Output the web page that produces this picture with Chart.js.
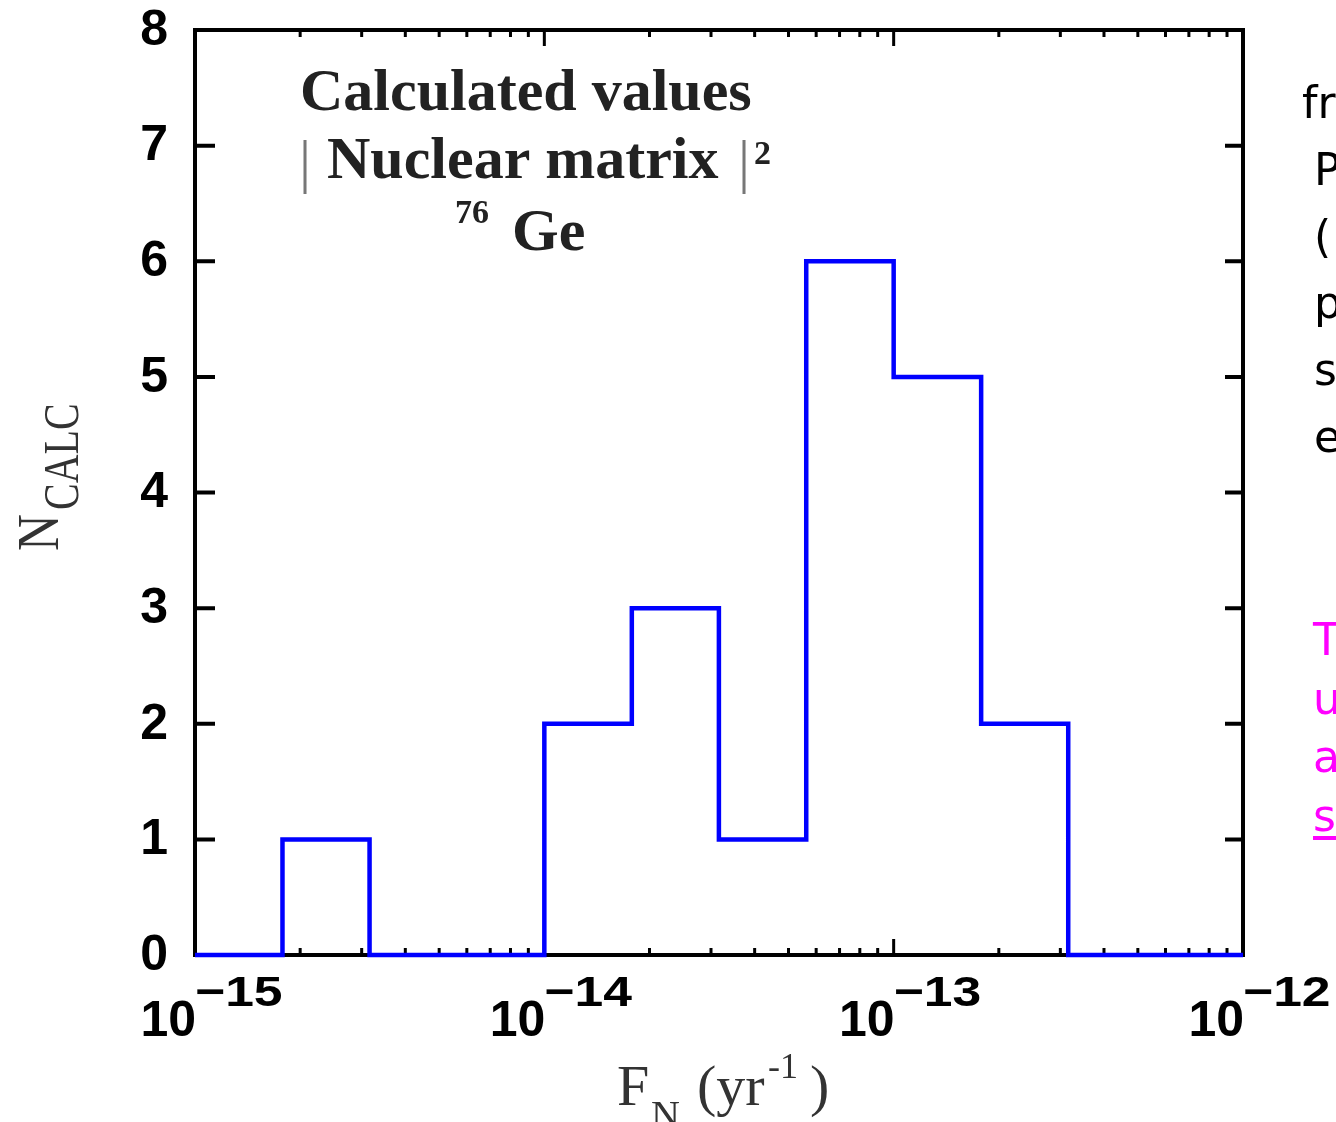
<!DOCTYPE html>
<html>
<head>
<meta charset="utf-8">
<script src="https://cdn.jsdelivr.net/npm/chart.js@4/dist/chart.umd.min.js"></script>
<style>
  body { margin: 0; background: #fff; }
  #wrap { width: 1336px; height: 1122px; }
</style>
</head>
<body>
<div id="wrap"><canvas id="histo" width="1336" height="1122"></canvas></div>
<script>
// histogram of calculated F_N values (bin edges in yr^-1)
var binEdges = [1e-15, 1.78e-15, 3.16e-15, 1e-14, 1.78e-14, 3.16e-14, 5.62e-14, 1e-13, 1.78e-13, 3.16e-13, 1e-12];
var counts   = [0, 1, 0, 2, 3, 1, 6, 5, 2, 0, 0];

// axes
var yTicks = [0, 1, 2, 3, 4, 5, 6, 7, 8];
var xDecades = [1e-15, 1e-14, 1e-13, 1e-12];
var xExpLabels = ['\u221215', '\u221214', '\u221213', '\u221212'];

// text cut off at the right edge of the slide
var sideLines = ['fr', 'P', '(', 'p', 's', 'e'];
var pinkLines = ['T', 'u', 'a', 's'];

var points = binEdges.map(function (e, i) { return { x: e, y: counts[i] }; });

var frame = {
  id: 'frame',
  beforeDatasetsDraw: function (chart) {
    var c = chart.ctx, a = chart.chartArea;
    var xs = chart.scales.x, ys = chart.scales.y;
    c.save();
    c.strokeStyle = '#000';
    c.lineWidth = 4;
    c.strokeRect(a.left, a.top, a.right - a.left, a.bottom - a.top);

    // y ticks, inside, both sides
    c.lineWidth = 4;
    yTicks.forEach(function (v) {
      var py = ys.getPixelForValue(v);
      c.beginPath();
      c.moveTo(a.left, py); c.lineTo(a.left + 20, py);
      c.moveTo(a.right, py); c.lineTo(a.right - 18, py);
      c.stroke();
    });

    // x ticks, major + minor, bottom and top
    c.lineWidth = 3;
    xDecades.forEach(function (d, i) {
      var px = xs.getPixelForValue(d);
      c.beginPath();
      c.moveTo(px, a.bottom); c.lineTo(px, a.bottom - 16);
      c.moveTo(px, a.top); c.lineTo(px, a.top + 16);
      c.stroke();
      if (i == xDecades.length - 1) return;
      for (var m = 2; m <= 9; m++) {
        var mx = xs.getPixelForValue(d * m);
        c.beginPath();
        c.moveTo(mx, a.bottom); c.lineTo(mx, a.bottom - 7);
        c.moveTo(mx, a.top); c.lineTo(mx, a.top + 7);
        c.stroke();
      }
    });
    c.restore();
  },
  afterDraw: function (chart) {
    var c = chart.ctx, a = chart.chartArea;
    var xs = chart.scales.x, ys = chart.scales.y;
    c.save();
    c.fillStyle = '#000';

    // y tick labels
    c.font = 'bold 50px "Liberation Sans", Arial, sans-serif';
    c.textAlign = 'right';
    c.textBaseline = 'middle';
    yTicks.forEach(function (v) {
      c.fillText(String(v), 168, ys.getPixelForValue(v) + 1);
    });

    // x tick labels 10^-n
    c.textBaseline = 'alphabetic';
    xDecades.forEach(function (d, i) {
      var px = xs.getPixelForValue(d);
      c.font = 'bold 50px "Liberation Sans", Arial, sans-serif';
      c.textAlign = 'right';
      c.fillText('10', px + 1, 1036);
      c.font = 'bold 43px "Liberation Sans", Arial, sans-serif';
      c.textAlign = 'left';
      c.save();
      c.translate(px, 1006);
      c.scale(1.2, 1);
      c.fillText(xExpLabels[i], 0, 0);
      c.restore();
    });

    // x title  F_N (yr^-1)
    c.fillStyle = '#333';
    c.textAlign = 'left';
    c.font = '58px "Liberation Serif", "Times New Roman", serif';
    c.fillText('F', 617, 1105);
    c.font = '40px "Liberation Serif", "Times New Roman", serif';
    c.fillText('N', 651, 1128);
    c.font = '58px "Liberation Serif", "Times New Roman", serif';
    c.fillText('(yr', 697, 1105);
    c.font = '36px "Liberation Serif", "Times New Roman", serif';
    c.fillText('-1', 768, 1078);
    c.font = '58px "Liberation Serif", "Times New Roman", serif';
    c.fillText(')', 810, 1105);

    // y title  N_CALC
    c.save();
    c.translate(58, 551);
    c.rotate(-Math.PI / 2);
    c.save();
    c.scale(0.85, 1);
    c.font = '60px "Liberation Serif", "Times New Roman", serif';
    c.fillText('N', 0, 0);
    c.restore();
    c.translate(41, 20);
    c.scale(0.8, 1);
    c.font = '50px "Liberation Serif", "Times New Roman", serif';
    c.fillText('CALC', 0, 0);
    c.restore();

    // annotation in the plot
    var bold = 'bold 60px "Liberation Serif", "Times New Roman", serif';
    c.fillStyle = '#222';
    c.font = bold;
    c.fillText('Calculated values', 300, 110);
    c.fillStyle = '#777';
    c.font = '60px "Liberation Serif", "Times New Roman", serif';
    c.fillText('|', 299, 181);
    c.fillText('|', 738, 181);
    c.fillStyle = '#222';
    c.font = bold;
    c.fillText('Nuclear matrix', 327, 178);
    c.font = 'bold 34px "Liberation Serif", "Times New Roman", serif';
    c.fillText('2', 754, 164);
    c.fillText('76', 455, 223);
    c.font = bold;
    c.fillText('Ge', 512, 250);

    // side text (cut off)
    c.fillStyle = '#000';
    c.font = '44px "DejaVu Sans", sans-serif';
    sideLines.forEach(function (t, i) {
      c.fillText(t, i == 0 ? 1302 : 1314, 118 + i * 66.8);
    });
    c.fillStyle = '#ff00ff';
    pinkLines.forEach(function (t, i) {
      c.fillText(t, 1313, 655 + i * 58.5);
    });
    c.fillRect(1313, 836, 30, 4);
    c.restore();
  }
};

new Chart(document.getElementById('histo'), {
  type: 'line',
  data: {
    datasets: [{
      data: points,
      stepped: 'before',
      borderColor: '#0000ff',
      borderWidth: 4.5,
      borderJoinStyle: 'miter',
      pointRadius: 0,
      fill: false,
      clip: false
    }]
  },
  options: {
    responsive: false,
    animation: false,
    layout: { padding: { left: 195, right: 93, top: 30, bottom: 167 } },
    plugins: { legend: { display: false }, tooltip: { enabled: false } },
    scales: {
      x: { type: 'logarithmic', min: 1e-15, max: 1e-12, display: false },
      y: { type: 'linear', min: 0, max: 8, display: false }
    }
  },
  plugins: [frame]
});
</script>
</body>
</html>
